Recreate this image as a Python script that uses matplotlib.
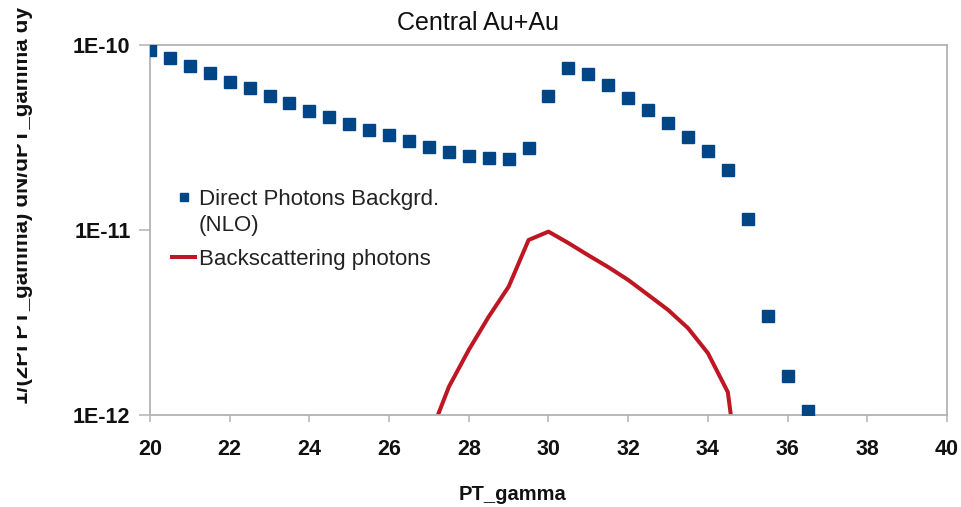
import matplotlib
matplotlib.use('Agg')
import matplotlib.pyplot as plt
from matplotlib.lines import Line2D
from matplotlib.transforms import Bbox, TransformedBbox

plt.rcParams['font.family'] = ['Liberation Sans', 'DejaVu Sans']

# PT_gamma grid and spectra
pt_direct = [20.0, 20.5, 21.0, 21.5, 22.0, 22.5, 23.0, 23.5, 24.0, 24.5,
             25.0, 25.5, 26.0, 26.5, 27.0, 27.5, 28.0, 28.5, 29.0, 29.5,
             30.0, 30.5, 31.0, 31.5, 32.0, 32.5, 33.0, 33.5, 34.0, 34.5,
             35.0, 35.5, 36.0, 36.5]
direct_nlo = [9.4e-11, 8.47e-11, 7.73e-11, 7.03e-11, 6.33e-11, 5.83e-11, 5.32e-11, 4.84e-11,
              4.42e-11, 4.07e-11, 3.74e-11, 3.46e-11, 3.27e-11, 3.03e-11, 2.81e-11, 2.65e-11,
              2.50e-11, 2.44e-11, 2.43e-11, 2.77e-11, 5.30e-11, 7.54e-11, 6.97e-11, 6.08e-11,
              5.18e-11, 4.46e-11, 3.79e-11, 3.18e-11, 2.67e-11, 2.11e-11, 1.15e-11, 3.42e-12,
              1.63e-12, 1.05e-12]

pt_back = [27.0, 27.5, 28.0, 28.5, 29.0, 29.5, 30.0, 30.5, 31.0, 31.5,
           32.0, 32.5, 33.0, 33.5, 34.0, 34.5, 35.0]
backscatter = [7.5e-13, 1.42e-12, 2.25e-12, 3.4e-12, 4.94e-12, 8.83e-12, 9.8e-12, 8.5e-12,
               7.3e-12, 6.3e-12, 5.37e-12, 4.46e-12, 3.7e-12, 2.95e-12, 2.16e-12, 1.33e-12,
               2e-13]

x_ticks = [20, 22, 24, 26, 28, 30, 32, 34, 36, 38, 40]
y_ticks = [1e-12, 1e-11, 1e-10]
y_tick_labels = ['1E-12', '1E-11', '1E-10']

blue = '#004586'
red = '#be1622'
grey = '#b3b3b3'

W, H = 961, 507
fig = plt.figure(figsize=(W / 100, H / 100), dpi=100)
ax = fig.add_axes([150 / W, 1 - 415 / H, 797 / W, 370 / H])

ax.plot(pt_direct, direct_nlo, linestyle='none', marker='s', markersize=8.6,
        color=blue, markeredgecolor=blue, zorder=3)
ax.plot(pt_back, backscatter, color=red, linewidth=2.9, solid_joinstyle='round', zorder=2)

ax.set_yscale('log')
ax.set_xlim(20, 40)
ax.set_ylim(1e-12, 1e-10)
ax.set_xticks(x_ticks)
ax.set_xticklabels([str(t) for t in x_ticks], fontsize=15.5, fontweight='bold', color='#111111')
ax.set_yticks(y_ticks)
ax.set_yticklabels(y_tick_labels, fontsize=15.5, fontweight='bold', color='#111111')
ax.yaxis.set_minor_locator(matplotlib.ticker.NullLocator())
ax.tick_params(axis='x', length=5, width=1.1, color=grey, pad=12)
ax.tick_params(axis='y', length=8, width=1.1, color=grey, pad=6)
for sp in ax.spines.values():
    sp.set_color(grey)
    sp.set_linewidth(1.3)

# frameless legend, split in two so the red entry sits a bit further down;
# the "(NLO)" continuation line gets an empty handle
leg_kw = dict(loc='upper left', frameon=False, fontsize=16, handlelength=1.05,
              handletextpad=0.15, labelspacing=0.25, borderpad=0, borderaxespad=0)
leg1 = ax.legend([Line2D([], [], linestyle='none', marker='s', markersize=6.4, color=blue),
                  Line2D([], [], linestyle='none')],
                 ['Direct Photons Backgrd.', '(NLO)'],
                 bbox_to_anchor=(0.0276, 0.611), **leg_kw)
ax.add_artist(leg1)
leg2 = ax.legend([Line2D([], [], color=red, linewidth=2.9)], ['Backscattering photons'],
                 bbox_to_anchor=(0.0276, 0.449), **leg_kw)
for leg in (leg1, leg2):
    for t in leg.get_texts():
        t.set_color('#222222')

fig.text(478 / W, 1 - 30 / H, 'Central Au+Au', ha='center', va='baseline',
         fontsize=18, color='#111111')
fig.text(512 / W, 1 - 500 / H, 'PT_gamma', ha='center', va='baseline',
         fontsize=14.5, fontweight='bold', color='#111111')

# y title runs past the left edge of the chart area and is cut there
ylab = fig.text(28 / W, 1 - 205 / H, '1/(2PI PT_gamma) dN/dPT_gamma dy', rotation=90,
                ha='center', va='baseline', rotation_mode='anchor', fontsize=16,
                fontweight='bold', color='#111111')
ylab.set_clip_box(TransformedBbox(Bbox([[17 / W, 0], [1, 1]]), fig.transFigure))
ylab.set_clip_on(True)

fig.savefig('out.png', dpi=100, facecolor='white')
